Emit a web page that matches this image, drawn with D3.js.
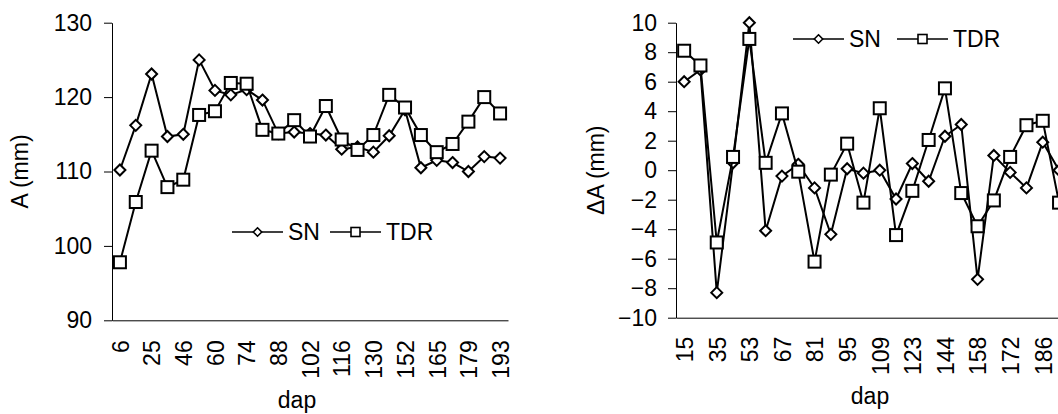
<!DOCTYPE html>
<html>
<head>
<meta charset="utf-8">
<script src="https://cdn.jsdelivr.net/npm/d3@7"></script>
<style>
  body { margin: 0; background: #fff; }
  svg { display: block; font-family: "Liberation Sans", Arial, sans-serif; }
</style>
</head>
<body>
<script>
// Left panel: A (mm) per dap
const dap = [6, 15, 25, 35, 46, 53, 60, 67, 74, 81, 88, 95, 102, 109, 116, 123, 130, 144, 152, 158, 165, 172, 179, 186, 193];
const snA = [110.2, 116.2, 123.1, 114.7, 115.0, 125.0, 120.9, 120.3, 121.0, 119.6, 115.1, 115.3, 115.1, 114.9, 113.0, 113.3, 112.6, 114.8, 118.3, 110.5, 111.5, 111.2, 110.0, 112.0, 111.8];
const tdrA = [97.8, 105.9, 112.8, 107.9, 108.9, 117.6, 118.1, 121.9, 121.8, 115.6, 115.1, 116.9, 114.7, 118.8, 114.3, 112.9, 114.9, 120.3, 118.6, 114.9, 112.6, 113.7, 116.7, 120.0, 117.8];
const ticksA = [90, 100, 110, 120, 130];

// Right panel: delta A (mm) per dap
const dapDelta = [15, 25, 35, 46, 53, 60, 67, 74, 81, 88, 95, 102, 109, 116, 123, 130, 144, 152, 158, 165, 172, 179, 186, 193];
const snDA = [6.0, 6.8, -8.3, 0.5, 10.0, -4.1, -0.4, 0.4, -1.2, -4.35, 0.1, -0.2, 0.0, -1.95, 0.45, -0.75, 2.3, 3.1, -7.4, 1.0, -0.15, -1.2, 1.9, 0.0];
const tdrDA = [8.1, 7.1, -4.9, 0.9, 8.9, 0.5, 3.85, -0.1, -6.2, -0.3, 1.8, -2.2, 4.2, -4.4, -1.4, 2.05, 5.55, -1.55, -3.8, -2.05, 0.9, 3.05, 3.35, -2.2];
const ticksDA = [-10, -8, -6, -4, -2, 0, 2, 4, 6, 8, 10];

const seriesNames = ["SN", "TDR"];

const width = 1058;
const height = 414;
const fontSize = 23;

const svg = d3.select("body").append("svg")
    .attr("width", width)
    .attr("height", height)
    .attr("viewBox", [0, 0, width, height]);

function marker(g, type, size) {
  if (type == "diamond") {
    g.append("path")
        .attr("d", `M0,${-size}L${size},0L0,${size}L${-size},0Z`);
  } else {
    g.append("rect")
        .attr("x", -size).attr("y", -size)
        .attr("width", size * 2).attr("height", size * 2);
  }
}

function drawPanel(p) {
  const x = d3.scalePoint()
      .domain(p.cats)
      .range([p.left, p.right])
      .padding(0.5);

  const y = d3.scaleLinear()
      .domain(p.yDomain)
      .range([p.bottom, p.top]);

  // y axis
  svg.append("g")
      .attr("transform", `translate(${p.left},0)`)
      .call(d3.axisLeft(y).tickValues(p.yTicks).tickSize(8).tickSizeOuter(0).tickPadding(p.yPad))
      .call(g => g.selectAll("text").attr("font-size", fontSize).attr("fill", "#000").style("font-family", "inherit"))
      .call(g => g.selectAll("line, path").attr("stroke", "#000"));

  // x axis, only every other category labelled
  svg.append("g")
      .attr("transform", `translate(0,${p.bottom})`)
      .call(d3.axisBottom(x).tickValues(p.cats.filter((d, i) => i % 2 == 0)).tickSize(0).tickSizeOuter(0))
      .call(g => g.selectAll("path").attr("stroke", "#000"))
      .call(g => g.selectAll("text")
          .attr("font-size", fontSize)
          .attr("fill", "#000")
          .style("font-family", "inherit")
          .attr("text-anchor", "end")
          .attr("transform", "rotate(-90)")
          .attr("x", -p.xPad)
          .attr("y", 0)
          .attr("dy", "0.36em"));

  // axis titles
  svg.append("text")
      .attr("transform", `translate(${p.yTitleX},${(p.top + p.bottom) / 2}) rotate(-90)`)
      .attr("text-anchor", "middle")
      .attr("font-size", fontSize)
      .text(p.yTitle);

  svg.append("text")
      .attr("x", p.xTitleX)
      .attr("y", p.xTitleY)
      .attr("text-anchor", "middle")
      .attr("font-size", fontSize)
      .text("dap");

  // series: SN first, TDR on top
  const types = ["diamond", "square"];
  const sizes = [5.5, 6];
  p.series.forEach((values, s) => {
    const line = d3.line()
        .x((d, i) => x(p.cats[i]))
        .y(d => y(d));

    svg.append("path")
        .datum(values)
        .attr("fill", "none")
        .attr("stroke", "#000")
        .attr("stroke-width", 2)
        .attr("d", line);

    svg.append("g")
        .attr("fill", "#fff")
        .attr("stroke", "#000")
        .attr("stroke-width", 2)
      .selectAll("g")
      .data(values)
      .join("g")
        .attr("transform", (d, i) => `translate(${x(p.cats[i])},${y(d)})`)
        .each(function() { marker(d3.select(this), types[s], sizes[s]); });
  });

  // legend
  const legend = svg.append("g")
      .attr("transform", `translate(0,${p.legendY})`);
  seriesNames.forEach((name, s) => {
    const lx = p.legendX[s];
    legend.append("line")
        .attr("x1", lx).attr("x2", lx + 51)
        .attr("stroke", "#000")
        .attr("stroke-width", 1.6);
    const m = legend.append("g")
        .attr("transform", `translate(${lx + 25.5},0)`)
        .attr("fill", "#fff")
        .attr("stroke", "#000")
        .attr("stroke-width", 1.6);
    marker(m, types[s], s == 0 ? 4.2 : 4.5);
    legend.append("text")
        .attr("x", lx + 56)
        .attr("dy", "0.36em")
        .attr("font-size", fontSize)
        .text(name);
  });
}

drawPanel({
  cats: dap,
  series: [snA, tdrA],
  yDomain: [90, 130],
  yTicks: ticksA,
  left: 112, right: 508, top: 22.7, bottom: 320.3,
  yPad: 12, xPad: 20,
  yTitle: "A (mm)", yTitleX: 28,
  xTitleX: 297, xTitleY: 408,
  legendX: [232, 330], legendY: 232
});

drawPanel({
  cats: dapDelta,
  series: [snDA, tdrDA],
  yDomain: [-10, 10],
  yTicks: ticksDA,
  left: 676, right: 676 + 24 * 16.3, top: 22.7, bottom: 317.7,
  yPad: 11, xPad: 19,
  yTitle: "\u0394A (mm)", yTitleX: 604,
  xTitleX: 870, xTitleY: 404,
  legendX: [793, 897], legendY: 39
});
</script>
</body>
</html>
